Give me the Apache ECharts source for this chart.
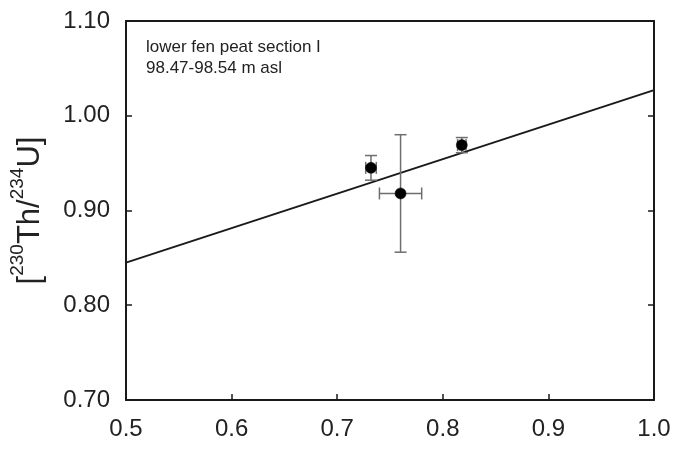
<!DOCTYPE html>
<html>
<head>
<meta charset="utf-8">
<script src="https://cdn.jsdelivr.net/npm/echarts@6/dist/echarts.min.js"></script>
<style>
  html, body { margin: 0; padding: 0; background: #fff; }
  #chart { width: 675px; height: 450px; }
</style>
</head>
<body>
<div id="chart"></div>
<script>
// Activity ratio [230Th/234U] against x, with 1-sigma error bars
const sampleX = [0.732, 0.760, 0.818];
const sampleY = [0.945, 0.918, 0.969];
const errX = [0.005, 0.020, 0.004];
const errY = [0.013, 0.062, 0.008];

// Isochron fit line end points
const fitX = [0.5, 1.0];
const fitY = [0.845, 1.027];

const xTicks = { min: 0.5, max: 1.0, step: 0.1 };
const yTicks = { min: 0.7, max: 1.1, step: 0.1 };

const annotationLines = ['lower fen peat section I', '98.47-98.54 m asl'];

const FONT = 'Liberation Sans, Arial, sans-serif';
const INK = '#1a1a1a';
const TEXT = '#222222';
const BAR = '#6e6e6e';

const chart = echarts.init(document.getElementById('chart'), null, { renderer: 'canvas' });

const errorData = sampleX.map((x, i) => [x, sampleY[i], errX[i], errY[i]]);
const pointData = sampleX.map((x, i) => [x, sampleY[i]]);
const fitData = fitX.map((x, i) => [x, fitY[i]]);

function renderErrorBars(params, api) {
  const x = api.value(0), y = api.value(1), ex = api.value(2), ey = api.value(3);
  const c = api.coord([x, y]);
  const top = api.coord([x, y + ey]);
  const bot = api.coord([x, y - ey]);
  const lft = api.coord([x - ex, y]);
  const rgt = api.coord([x + ex, y]);
  const cap = 6;
  const style = { stroke: BAR, lineWidth: 1.5, fill: null };
  const seg = (x1, y1, x2, y2) => ({ type: 'line', shape: { x1, y1, x2, y2 }, style });
  return {
    type: 'group',
    children: [
      seg(c[0], top[1], c[0], bot[1]),
      seg(c[0] - cap, top[1], c[0] + cap, top[1]),
      seg(c[0] - cap, bot[1], c[0] + cap, bot[1]),
      seg(lft[0], c[1], rgt[0], c[1]),
      seg(lft[0], c[1] - cap, lft[0], c[1] + cap),
      seg(rgt[0], c[1] - cap, rgt[0], c[1] + cap)
    ]
  };
}

const axisCommon = {
  axisLine: { show: true, onZero: false, lineStyle: { color: INK, width: 2 } },
  axisTick: { show: true, inside: true, length: 6, lineStyle: { color: INK, width: 1.5 } },
  splitLine: { show: false }
};

chart.setOption({
  animation: false,
  backgroundColor: '#ffffff',
  grid: { left: 124, right: 21, top: 21, bottom: 50, containLabel: false },
  xAxis: [
    Object.assign({
      type: 'value',
      min: xTicks.min, max: xTicks.max, interval: xTicks.step,
      position: 'bottom',
      axisLabel: {
        color: TEXT, fontFamily: FONT, fontSize: 24, margin: 17,
        formatter: v => v.toFixed(1)
      }
    }, axisCommon),
    Object.assign({
      type: 'value',
      min: xTicks.min, max: xTicks.max, interval: xTicks.step,
      position: 'top',
      axisLabel: { show: false }
    }, axisCommon, { axisTick: { show: false } })
  ],
  yAxis: [
    Object.assign({
      type: 'value',
      min: yTicks.min, max: yTicks.max, interval: yTicks.step,
      position: 'left',
      axisLabel: {
        color: TEXT, fontFamily: FONT, fontSize: 24, margin: 16,
        formatter: v => v.toFixed(2)
      },
      name: '{n|[}{s|230}{n|Th/}{s|234}{n|U]}',
      nameLocation: 'middle',
      nameGap: 80,
      nameRotate: 90,
      nameTextStyle: {
        rich: {
          n: { fontFamily: FONT, fontSize: 31, color: TEXT, lineHeight: 38, verticalAlign: 'bottom' },
          s: { fontFamily: FONT, fontSize: 19, color: TEXT, lineHeight: 38, verticalAlign: 'top' }
        }
      }
    }, axisCommon),
    Object.assign({
      type: 'value',
      min: yTicks.min, max: yTicks.max, interval: yTicks.step,
      position: 'right',
      axisLabel: { show: false }
    }, axisCommon)
  ],
  graphic: [{
    type: 'text',
    left: 146,
    top: 37,
    style: {
      text: annotationLines.join('\n'),
      font: '17px ' + FONT,
      fill: TEXT,
      lineHeight: 21
    }
  }],
  series: [
    {
      type: 'line',
      data: fitData,
      xAxisIndex: 0, yAxisIndex: 0,
      symbol: 'none',
      lineStyle: { color: INK, width: 2 },
      z: 2
    },
    {
      type: 'custom',
      data: errorData,
      xAxisIndex: 0, yAxisIndex: 0,
      renderItem: renderErrorBars,
      encode: { x: 0, y: 1 },
      z: 3
    },
    {
      type: 'scatter',
      data: pointData,
      xAxisIndex: 0, yAxisIndex: 0,
      symbol: 'circle',
      symbolSize: 11,
      itemStyle: { color: '#000', borderColor: '#000', borderWidth: 0.5, opacity: 1 },
      z: 4
    }
  ]
});
</script>
</body>
</html>
